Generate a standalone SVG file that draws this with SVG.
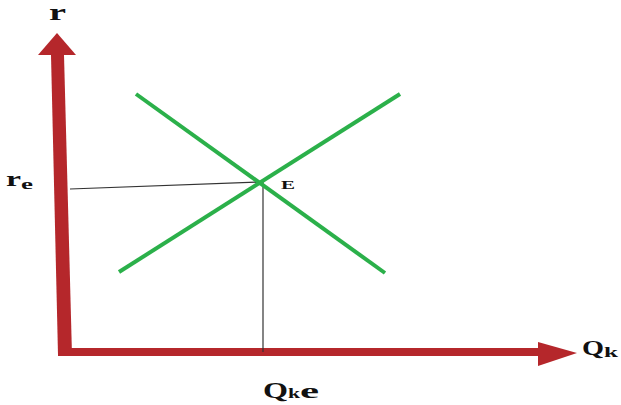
<svg xmlns="http://www.w3.org/2000/svg" width="621" height="405" viewBox="0 0 621 405">
<style>
.axis{fill:#b5272b}
.curve{stroke:#2bb04a;stroke-width:4;fill:none}
.guide{stroke:#333;stroke-width:1.2;fill:none}
.lbl{font-family:"Liberation Serif",serif;font-weight:bold;fill:#111}
</style>
<rect width="621" height="405" fill="#fff"/>
<g id="axes">
<polygon class="axis" points="51,55 64,55 72,355 58,355"/>
<polygon class="axis" points="57,33 38,55 76,55"/>
<rect class="axis" x="58" y="348" width="484" height="8"/>
<polygon class="axis" points="538,342 577,353 538,366"/>
</g>
<g id="connectors">
<line class="guide" x1="70" y1="189" x2="262" y2="182"/>
<line class="guide" x1="263" y1="182" x2="263" y2="352"/>
</g>
<g id="demand"><line class="curve" x1="136" y1="94" x2="385" y2="273"/></g>
<g id="supply"><line class="curve" x1="119" y1="272" x2="400" y2="94"/></g>
<g id="labels">
<text class="lbl" x="49" y="20" font-size="24" textLength="17" lengthAdjust="spacingAndGlyphs">r</text>
<text class="lbl" x="6" y="186" font-size="22"><tspan textLength="15" lengthAdjust="spacingAndGlyphs">r</tspan><tspan font-size="15" dy="3" textLength="12" lengthAdjust="spacingAndGlyphs">e</tspan></text>
<text class="lbl" x="281" y="189" font-size="13" textLength="14" lengthAdjust="spacingAndGlyphs">E</text>
<text class="lbl" x="582" y="355" font-size="21"><tspan textLength="22" lengthAdjust="spacingAndGlyphs">Q</tspan><tspan font-size="14" dy="2" textLength="14" lengthAdjust="spacingAndGlyphs">k</tspan></text>
<text class="lbl" x="263" y="398" font-size="22"><tspan font-size="23" textLength="25" lengthAdjust="spacingAndGlyphs">Q</tspan><tspan font-size="15" textLength="12" lengthAdjust="spacingAndGlyphs">k</tspan><tspan textLength="19" lengthAdjust="spacingAndGlyphs">e</tspan></text>
</g>
</svg>
